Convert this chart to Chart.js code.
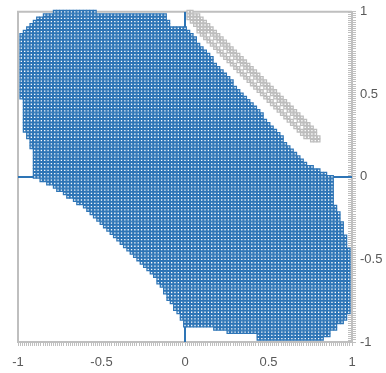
<!DOCTYPE html>
<html>
<head>
<meta charset="utf-8">
<script src="https://cdn.jsdelivr.net/npm/chart.js@4/dist/chart.umd.min.js"></script>
<style>
  html, body { margin: 0; padding: 0; background: #fff; }
  #wrap { width: 386px; height: 373px; }
</style>
</head>
<body>
<div id="wrap"><canvas id="c" width="386" height="373"></canvas></div>
<script>
// Labelled ticks on both axes
const xTickLabels = [-1, -0.5, 0, 0.5, 1];
const yTickLabels = [-1, -0.5, 0, 0.5, 1];
const minorStep = 0.0125;
const gridStep = 0.02;

// Filled region, one row of the 0.02 grid per entry: [y, first x, last x]
const regionRows = [
  [1.00, -0.78, -0.54],
  [0.98, -0.84, -0.12], [0.96, -0.88, -0.12], [0.94, -0.90, -0.10], [0.92, -0.92, -0.10],
  [0.90, -0.94, 0.00], [0.88, -0.96, 0.02], [0.86, -0.98, 0.04], [0.84, -0.98, 0.06],
  [0.82, -0.98, 0.06], [0.80, -0.98, 0.08], [0.78, -0.98, 0.10], [0.76, -0.98, 0.12],
  [0.74, -0.98, 0.14], [0.72, -0.98, 0.16], [0.70, -0.98, 0.16], [0.68, -0.98, 0.18],
  [0.66, -0.98, 0.20], [0.64, -0.98, 0.22], [0.62, -0.98, 0.24], [0.60, -0.98, 0.26],
  [0.58, -0.98, 0.28], [0.56, -0.98, 0.28], [0.54, -0.98, 0.30], [0.52, -0.98, 0.32],
  [0.50, -0.98, 0.34], [0.48, -0.98, 0.36], [0.46, -0.96, 0.38], [0.44, -0.96, 0.40],
  [0.42, -0.96, 0.42], [0.40, -0.96, 0.44], [0.38, -0.96, 0.46], [0.36, -0.96, 0.46],
  [0.34, -0.96, 0.48], [0.32, -0.96, 0.50], [0.30, -0.96, 0.52], [0.28, -0.96, 0.54],
  [0.26, -0.94, 0.56], [0.24, -0.94, 0.58], [0.22, -0.92, 0.58], [0.20, -0.92, 0.60],
  [0.18, -0.92, 0.62], [0.16, -0.90, 0.64], [0.14, -0.90, 0.66], [0.12, -0.90, 0.68],
  [0.10, -0.90, 0.70], [0.08, -0.90, 0.72], [0.06, -0.90, 0.76], [0.04, -0.90, 0.80],
  [0.02, -0.90, 0.84], [0.00, -0.90, 0.88],
  [-0.02, -0.86, 0.88], [-0.04, -0.82, 0.88], [-0.06, -0.78, 0.88], [-0.08, -0.76, 0.88],
  [-0.10, -0.72, 0.88], [-0.12, -0.70, 0.88], [-0.14, -0.66, 0.88], [-0.16, -0.64, 0.88],
  [-0.18, -0.60, 0.90], [-0.20, -0.58, 0.90], [-0.22, -0.56, 0.92], [-0.24, -0.54, 0.92],
  [-0.26, -0.52, 0.92], [-0.28, -0.50, 0.94], [-0.30, -0.48, 0.94], [-0.32, -0.46, 0.94],
  [-0.34, -0.44, 0.94], [-0.36, -0.42, 0.96], [-0.38, -0.40, 0.96], [-0.40, -0.38, 0.96],
  [-0.42, -0.36, 0.96], [-0.44, -0.34, 0.98], [-0.46, -0.32, 0.98], [-0.48, -0.30, 0.98],
  [-0.50, -0.28, 0.98], [-0.52, -0.26, 0.98], [-0.54, -0.24, 0.98], [-0.56, -0.22, 0.98],
  [-0.58, -0.20, 0.98], [-0.60, -0.18, 0.98], [-0.62, -0.16, 0.98], [-0.64, -0.16, 0.98],
  [-0.66, -0.14, 0.98], [-0.68, -0.12, 0.98], [-0.70, -0.12, 0.98], [-0.72, -0.10, 0.98],
  [-0.74, -0.10, 0.98], [-0.76, -0.08, 0.98], [-0.78, -0.06, 0.98], [-0.80, -0.06, 0.98],
  [-0.82, -0.04, 0.98], [-0.84, -0.02, 0.96], [-0.86, -0.02, 0.96], [-0.88, 0.00, 0.94],
  [-0.90, 0.00, 0.90], [-0.92, 0.18, 0.90], [-0.94, 0.26, 0.86], [-0.96, 0.44, 0.86],
  [-0.98, 0.44, 0.82]
];

// Thin diagonal band, one diagonal per entry: [x + y, first x, last x]
const bandDiagonals = [
  [0.96, 0.08, 0.72],
  [0.98, 0.02, 0.76],
  [1.00, 0.02, 0.12],
  [1.00, 0.72, 0.78],
  [1.02, 0.02, 0.80],
  [1.04, 0.04, 0.80],
  [1.06, 0.08, 0.78]
];

// Cross lines through the origin
const crossXs = [-1, 1];
const crossYs = [-1, 1];

const round2 = v => Math.round(v * 100) / 100;

function regionPoints(rows) {
  const pts = [];
  rows.forEach(([y, x0, x1]) => {
    const k0 = Math.round(x0 / gridStep), k1 = Math.round(x1 / gridStep);
    for (let k = k0; k <= k1; k++) pts.push({ x: round2(k * gridStep), y });
  });
  return pts;
}

function bandPoints(diags) {
  const pts = [];
  diags.forEach(([u, x0, x1]) => {
    const k0 = Math.round(x0 / gridStep), k1 = Math.round(x1 / gridStep);
    for (let k = k0; k <= k1; k++) {
      const x = round2(k * gridStep);
      pts.push({ x, y: round2(u - x) });
    }
  });
  return pts;
}

const BLUE = '#2E75B6';
const GRAY = '#BDBDBD';
const AXIS = '#BFBFBF';
const TEXT = '#595959';

function labelFor(list) {
  return function (value) {
    const hit = list.find(v => Math.abs(v - value) < 1e-6);
    return hit === undefined ? '' : String(hit);
  };
}

// plot frame on the left and top, plus the inner half of the cross ticks on the value axis
const frame = {
  id: 'frame',
  beforeDatasetsDraw(chart) {
    const { ctx, chartArea: a, scales } = chart;
    ctx.save();
    ctx.strokeStyle = AXIS;
    ctx.lineWidth = 2;
    ctx.beginPath();
    ctx.moveTo(a.left, a.bottom);
    ctx.lineTo(a.left, a.top);
    ctx.lineTo(a.right, a.top);
    ctx.stroke();
    ctx.lineWidth = 1;
    ctx.beginPath();
    scales.y.ticks.forEach(t => {
      const py = Math.round(scales.y.getPixelForValue(t.value)) + 0.5;
      ctx.moveTo(a.right - 4, py);
      ctx.lineTo(a.right, py);
    });
    ctx.stroke();
    ctx.restore();
  }
};

const markerStyle = color => ({
  pointStyle: 'rect',
  pointRadius: 1.85,
  pointHoverRadius: 1.85,
  pointBorderWidth: 1.3,
  pointBorderColor: color,
  pointBackgroundColor: '#ffffff',
  borderColor: color,
  backgroundColor: '#ffffff',
  showLine: false,
  clip: false
});

new Chart(document.getElementById('c'), {
  type: 'scatter',
  data: {
    datasets: [
      Object.assign({ label: 'region', data: regionPoints(regionRows) }, markerStyle(BLUE)),
      Object.assign({ label: 'band', data: bandPoints(bandDiagonals) }, markerStyle(GRAY)),
      {
        label: 'h', data: crossXs.map(x => ({ x, y: 0 })),
        showLine: true, borderColor: BLUE, borderWidth: 2, pointRadius: 0
      },
      {
        label: 'v', data: crossYs.map(y => ({ x: 0, y })),
        showLine: true, borderColor: BLUE, borderWidth: 2, pointRadius: 0
      }
    ]
  },
  options: {
    responsive: false,
    animation: false,
    devicePixelRatio: 1,
    layout: { padding: { left: 18, top: 11, right: 0, bottom: 0 } },
    plugins: { legend: { display: false }, tooltip: { enabled: false } },
    events: [],
    scales: {
      x: {
        type: 'linear', position: 'bottom', min: -1, max: 1,
        afterFit: s => { s.height = 31; },
        ticks: {
          stepSize: minorStep, autoSkip: false, maxRotation: 0, minRotation: 0,
          callback: labelFor(xTickLabels), color: TEXT, padding: 9,
          font: { family: 'Liberation Sans', size: 13 }
        },
        grid: { drawOnChartArea: false, drawTicks: true, tickLength: 4, color: AXIS, lineWidth: 1 },
        border: { color: AXIS, width: 2 }
      },
      y: {
        type: 'linear', position: 'right', min: -1, max: 1,
        afterFit: s => { s.width = 34; },
        ticks: {
          stepSize: minorStep, autoSkip: false,
          callback: labelFor(yTickLabels), color: TEXT, padding: 4,
          font: { family: 'Liberation Sans', size: 13 }
        },
        grid: { drawOnChartArea: false, drawTicks: true, tickLength: 4, color: AXIS, lineWidth: 1 },
        border: { color: AXIS, width: 2 }
      }
    }
  },
  plugins: [frame]
});
</script>
</body>
</html>
